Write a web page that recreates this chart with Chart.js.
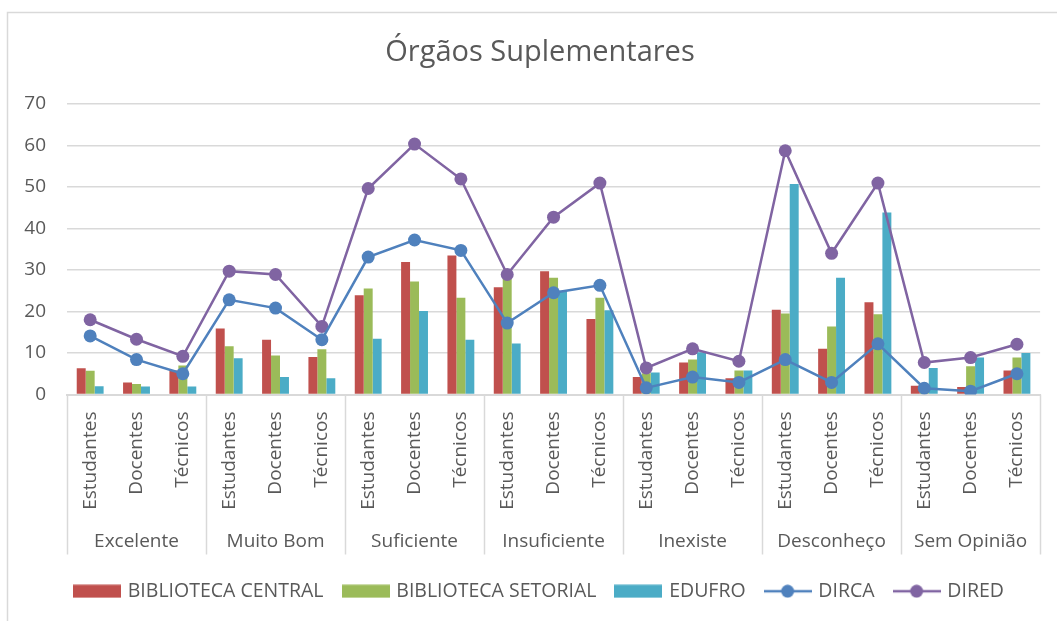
<!DOCTYPE html>
<html>
<head>
<meta charset="utf-8">
<script src="https://cdn.jsdelivr.net/npm/chart.js@4.4.1/dist/chart.umd.min.js"></script>
<style>
  html, body { margin: 0; padding: 0; background: #ffffff; }
  #wrap { width: 1057px; height: 621px; position: relative; }
</style>
</head>
<body>
<div id="wrap"><canvas id="c" width="1057" height="621"></canvas></div>
<script>
const groups = ['Excelente', 'Muito Bom', 'Suficiente', 'Insuficiente', 'Inexiste', 'Desconheço', 'Sem Opinião'];
const roles = ['Estudantes', 'Docentes', 'Técnicos'];
const yTicks = [0, 10, 20, 30, 40, 50, 60, 70];

const bibliotecaCentral  = [6.3, 2.9, 5.8, 15.9, 13.2, 9.0, 23.9, 31.9, 33.5, 25.8, 29.7, 18.2, 4.2, 7.7, 3.9, 20.4, 11.0, 22.2, 2.1, 1.8, 5.8];
const bibliotecaSetorial = [5.7, 2.5, 7.0, 11.6, 9.4, 10.9, 25.5, 27.2, 23.3, 29.0, 28.1, 23.3, 5.1, 8.4, 5.8, 19.5, 16.4, 19.3, 1.0, 6.8, 8.9];
const edufro             = [2.0, 1.9, 1.9, 8.7, 4.2, 3.9, 13.4, 20.1, 13.2, 12.3, 25.0, 20.3, 5.3, 10.2, 5.8, 50.7, 28.1, 43.8, 6.4, 8.9, 10.0];
const dirca              = [14.1, 8.4, 5.0, 22.8, 20.8, 13.2, 33.1, 37.2, 34.7, 17.2, 24.5, 26.3, 1.6, 4.2, 2.9, 8.4, 2.9, 12.2, 1.5, 0.8, 5.0];
const dired              = [18.0, 13.3, 9.2, 29.7, 28.9, 16.4, 49.6, 60.3, 51.9, 28.9, 42.7, 50.9, 6.4, 11.0, 8.0, 58.7, 34.0, 50.9, 7.7, 8.9, 12.1];

const labels = [];
groups.forEach(() => roles.forEach(r => labels.push(r)));

const C_RED = '#C0504D', C_GREEN = '#9BBB59', C_TEAL = '#4BACC6', C_BLUE = '#4F81BD', C_PURPLE = '#8064A2';
const TEXT = '#595959', GRID = '#d9d9d9';
const FONT = "'Open Sans', 'DejaVu Sans', sans-serif";

function icon(kind, color) {
  const cv = document.createElement('canvas');
  cv.width = 48; cv.height = 14;
  const g = cv.getContext('2d');
  g.fillStyle = color; g.strokeStyle = color;
  if (kind === 'bar') {
    g.fillRect(0, 0.5, 48, 13);
  } else {
    g.lineWidth = 2.5;
    g.beginPath(); g.moveTo(0, 7); g.lineTo(48, 7); g.stroke();
    g.beginPath(); g.arc(24, 7, 6.5, 0, Math.PI * 2); g.fill();
  }
  return cv;
}

const barCommon = { borderWidth: 0, order: 2, categoryPercentage: 0.58, barPercentage: 1.0 };
const lineCommon = { type: 'line', borderWidth: 2.5, pointRadius: 6.5, pointHoverRadius: 6.5, pointBorderWidth: 0, tension: 0, fill: false };

const datasets = [
  Object.assign({ label: 'BIBLIOTECA CENTRAL', data: bibliotecaCentral, backgroundColor: C_RED, _kind: 'bar' }, barCommon),
  Object.assign({ label: 'BIBLIOTECA SETORIAL', data: bibliotecaSetorial, backgroundColor: C_GREEN, _kind: 'bar' }, barCommon),
  Object.assign({ label: 'EDUFRO', data: edufro, backgroundColor: C_TEAL, _kind: 'bar' }, barCommon),
  Object.assign({ label: 'DIRCA', data: dirca, borderColor: C_BLUE, backgroundColor: C_BLUE, pointBackgroundColor: C_BLUE, order: 0, _kind: 'line' }, lineCommon),
  Object.assign({ label: 'DIRED', data: dired, borderColor: C_PURPLE, backgroundColor: C_PURPLE, pointBackgroundColor: C_PURPLE, order: 1, _kind: 'line' }, lineCommon)
];

const frame = {
  id: 'frame',
  afterLayout(chart) {
    // let y tick labels extend into the left margin (no clipping at the scale box)
    chart.scales.y.left = 0;
  },
  beforeDraw(chart) {
    const ctx = chart.ctx;
    ctx.save();
    ctx.fillStyle = '#ffffff';
    ctx.fillRect(0, 0, chart.width, chart.height);
    ctx.strokeStyle = GRID;
    ctx.lineWidth = 1.5;
    ctx.beginPath();
    ctx.moveTo(7.5, chart.height);
    ctx.lineTo(7.5, 12.5);
    ctx.lineTo(chart.width, 12.5);
    ctx.stroke();
    ctx.restore();
  },
  afterDraw(chart) {
    const x2 = chart.scales.x2;
    const ctx = chart.ctx;
    const n = groups.length;
    ctx.save();
    ctx.strokeStyle = GRID;
    ctx.lineWidth = 1.5;
    for (let i = 0; i <= n; i++) {
      const x = Math.round(x2.left + i * x2.width / n) + 0.5;
      ctx.beginPath();
      ctx.moveTo(x, chart.chartArea.bottom);
      ctx.lineTo(x, x2.bottom - 6);
      ctx.stroke();
    }
    ctx.restore();
  }
};

new Chart(document.getElementById('c'), {
  type: 'bar',
  data: { labels: labels, datasets: datasets },
  plugins: [frame],
  options: {
    responsive: false,
    animation: false,
    layout: { padding: { left: 34, right: 11, top: 0, bottom: 10 } },
    scales: {
      y: {
        min: 0, max: 70,
        afterBuildTicks(scale) { scale.ticks = yTicks.map(v => ({ value: v })); },
        afterFit(scale) { scale.width = 33; },
        ticks: { color: TEXT, font: { family: FONT, size: 19 }, padding: 21 },
        grid: { color: GRID, lineWidth: 1.5, drawTicks: false },
        border: { display: false }
      },
      x: {
        weight: 1,
        afterFit(scale) { scale.height = 120; },
        ticks: { color: TEXT, font: { family: FONT, size: 19 }, minRotation: 90, maxRotation: 90, autoSkip: false, padding: 17 },
        grid: { display: false, drawTicks: false },
        border: { display: true, color: GRID, width: 2 }
      },
      x2: {
        type: 'category',
        labels: groups,
        position: 'bottom',
        offset: true,
        weight: 2,
        afterFit(scale) { scale.height = 46; },
        ticks: { color: TEXT, font: { family: FONT, size: 19 }, padding: 16, autoSkip: false, maxRotation: 0 },
        grid: { display: false, drawTicks: false },
        border: { display: false }
      }
    },
    plugins: {
      title: {
        display: true,
        text: 'Órgãos Suplementares',
        color: TEXT,
        font: { family: FONT, size: 29, weight: 'normal' },
        padding: { top: 35, bottom: 34 }
      },
      legend: {
        position: 'bottom',
        labels: {
          color: TEXT,
          font: { family: FONT, size: 19.5 },
          usePointStyle: true,
          pointStyleWidth: 42,
          padding: 21,
          generateLabels(chart) {
            return chart.data.datasets.map((ds, i) => ({
              text: ds.label,
              datasetIndex: i,
              pointStyle: icon(ds._kind, ds._kind === 'bar' ? ds.backgroundColor : ds.borderColor),
              fillStyle: ds.backgroundColor,
              strokeStyle: ds.backgroundColor,
              lineWidth: 0,
              fontColor: TEXT,
              hidden: false
            }));
          }
        }
      },
      tooltip: { enabled: false }
    }
  }
});
</script>
</body>
</html>
